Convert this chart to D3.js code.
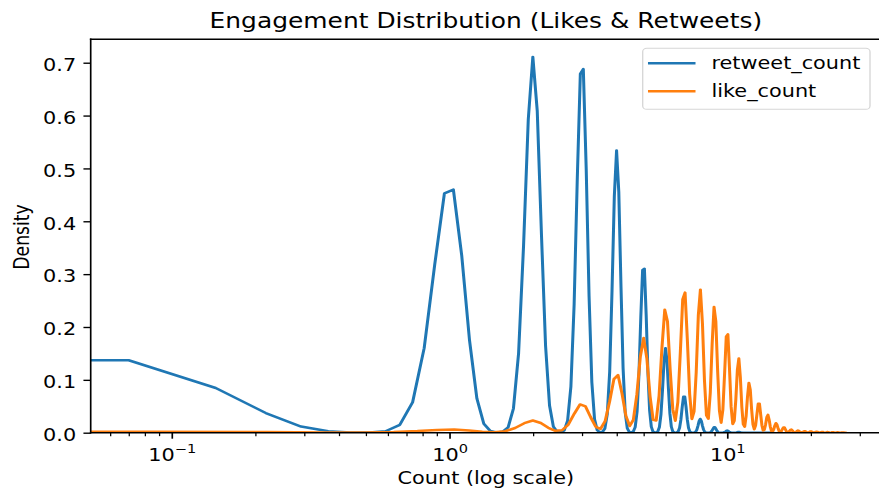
<!DOCTYPE html>
<html><head><meta charset="utf-8">
<script src="https://cdn.jsdelivr.net/npm/d3@7"></script>
<style>
body{margin:0;background:#fff}
svg{display:block}
text{font-family:"DejaVu Sans",sans-serif;fill:#000}
</style>
</head><body>
<svg id="c" width="879" height="490"></svg>
<script>
// ---- data (KDE curves) ----
const retweetX = [
-0.0041,0.0700,0.1441,0.2182,0.2923,0.3664,0.4406,0.5147,0.5888,0.6629,
0.7370,0.8111,0.8852,0.9593,1.0334,1.1075,1.1817,1.2558,1.3299,1.4040,
1.4781,1.5522,1.6263,1.7004,1.7745,1.8486,1.9228,1.9969,2.0710,2.1451,
2.2192,2.2933,2.3674,2.4415,2.5156,2.5897,2.6639,2.7380,2.8121,2.8862,
2.9603,3.0344,3.1085,3.1826,3.2567,3.3308,3.4050,3.4791,3.5532,3.6273,
3.7014,3.7755,3.8496,3.9237,3.9978,4.0719,4.1461,4.2202,4.2943,4.3684,
4.4425,4.5166,4.5907,4.6648,4.7389,4.8130,4.8872,4.9613,5.0354,5.1095,
5.1836,5.2577,5.3318,5.4059,5.4800,5.5541,5.6283,5.7024,5.7765,5.8506,
5.9247,5.9988,6.0729,6.1470,6.2211,6.2952,6.3694,6.4435,6.5176,6.5917,
6.6658,6.7399,6.8140,6.8881,6.9622,7.0363,7.1105,7.1846,7.2587,7.3328,
7.4069,7.4810,7.5551,7.6292,7.7033,7.7774,7.8516,7.9257,7.9998,8.0739,
8.1480,8.2221,8.2962,8.3703,8.4444,8.5185,8.5927,8.6668,8.7409,8.8150,
8.8891,8.9632,9.0373,9.1114,9.1855,9.2596,9.3338,9.4079,9.4820,9.5561,
9.6302,9.7043,9.7784,9.8525,9.9266,10.0007,10.0749,10.1490,10.2231,10.2972,
10.3713,10.4454,10.5195,10.5936,10.6677,10.7418,10.8160,10.8901,10.9642,11.0383,
11.1124,11.1865,11.2606,11.3347,14.5960];
const retweetY = [
0.159,0.137,0.0845,0.0372,0.0117,0.0026,0.0004,0.0004,0.0027,0.0149,
0.0576,0.160,0.318,0.453,0.460,0.335,0.174,0.0646,0.0171,0.0033,
0.0006,0.0016,0.0100,0.0459,0.1507,0.353,0.593,0.711,0.609,0.374,
0.164,0.0515,0.0116,0.0019,0.0008,0.0042,0.0227,0.0878,0.243,0.480,
0.679,0.688,0.498,0.258,0.0955,0.0253,0.0048,0.0008,0.0013,0.0077,
0.0351,0.1147,0.268,0.447,0.534,0.456,0.278,0.1216,0.0380,0.0085,
0.0014,0.0004,0.0019,0.0104,0.0402,0.1108,0.2184,0.308,0.310,0.2233,
0.1151,0.0424,0.0112,0.0021,0.0003,0.0004,0.0024,0.0107,0.0348,0.0810,
0.1346,0.160,0.136,0.0827,0.0360,0.0112,0.0025,0.0004,0.0001,0.0004,
0.0024,0.0090,0.0247,0.0485,0.0680,0.0682,0.0489,0.0251,0.0092,0.0024,
0.0005,0.0001,0.0001,0.0004,0.0018,0.0057,0.0133,0.0220,0.0260,0.0221,
0.0133,0.0058,0.0018,0.0004,0.0001,0.0000,0.0001,0.0004,0.0014,0.0037,
0.0072,0.0101,0.0101,0.0072,0.0037,0.0013,0.0004,0.0001,0.0000,0.0000,
0.0001,0.0003,0.0009,0.0021,0.0034,0.0040,0.0034,0.0020,0.0009,0.0003,
0.0001,0,0,0,0,0.0001,0.0005,0.0010,0.0014,0.0014,
0.0010,0.0005,0.0002,0,0];
const likeX = [
-0.0533,0.0834,0.2201,0.3568,0.4934,0.6301,0.7668,0.9035,1.0402,1.1768,
1.3135,1.4502,1.5869,1.7236,1.8602,1.9969,2.1336,2.2703,2.4070,2.5436,
2.6803,2.8170,2.9537,3.0904,3.2270,3.3637,3.5004,3.6371,3.7738,3.9104,
4.0471,4.1838,4.3205,4.4572,4.5938,4.7305,4.8672,5.0039,5.1406,5.2772,
5.4139,5.5506,5.6873,5.8240,5.9606,6.0973,6.2340,6.3707,6.5074,6.6440,
6.7807,6.9174,7.0541,7.1908,7.3274,7.4641,7.6008,7.7375,7.8742,8.0108,
8.1475,8.2842,8.4209,8.5576,8.6942,8.8309,8.9676,9.1043,9.2410,9.3776,
9.5143,9.6510,9.7877,9.9244,10.0610,10.1977,10.3344,10.4711,10.6078,10.7444,
10.8811,11.0178,11.1545,11.2912,11.4278,11.5645,11.7012,11.8379,11.9746,12.1112,
12.2479,12.3846,12.5213,12.6580,12.7946,12.9313,13.0680,13.2047,13.3414,13.4780,
13.6147,13.7514,13.8881,14.0248,14.1614,14.2981,14.4348,14.5715,14.7082,14.8448,
14.9815,15.1182,15.2549,15.3916,15.5282,15.6649,15.8016,15.9383,16.0750,16.2116,
16.3483,16.4850,16.6217,16.7584,16.8950,17.0317,17.1684,17.3051,17.4418,17.5784,
17.7151,17.8518,17.9885,18.1252,18.2618,18.3985,18.5352,18.6719,18.8086,18.9452,
19.0819,19.2186,19.3553,19.4920,19.6286,19.7653,19.9020,20.0387,20.1754,20.3120,
20.4487,20.5854,20.7221,20.8588,20.9954,21.1321,21.2688,21.4055,21.5422,21.6788,
21.8155,21.9522,22.0889,22.2256,22.3622,22.4989,22.6356,22.7723,22.9090,23.0456,
23.1823,23.3190,23.4557,23.5924,23.7290,23.8657,24.0024,24.1391,24.2758,24.4124,
24.5491,24.6858,24.8225,24.9592,25.0958,25.2325,25.3692,25.5059,25.6426,25.7792,
25.9159,26.0526,26.1893,26.3260,26.4626,26.5993];
const likeY = [
0.0019,0.0018,0.0011,0.0004,0.0003,0.0011,0.0030,0.0053,0.0059,0.0041,
0.0018,0.0010,0.0028,0.0089,0.0180,0.0230,0.0184,0.0093,0.0036,0.0046,
0.0154,0.0362,0.0535,0.0497,0.0290,0.0112,0.0073,0.0220,0.0591,0.1013,
0.1089,0.0735,0.0316,0.0127,0.0242,0.0724,0.1436,0.1790,0.1398,0.0689,
0.0242,0.0230,0.0703,0.1610,0.2325,0.2105,0.1197,0.0445,0.0227,0.0577,
0.1510,0.2525,0.2651,0.1745,0.0730,0.0261,0.0400,0.1148,0.2224,0.2706,
0.2065,0.0992,0.0332,0.0265,0.0755,0.1686,0.2379,0.2104,0.1167,0.0420,
0.0190,0.0437,0.1110,0.1816,0.1861,0.1197,0.0488,0.0165,0.0225,0.0626,
0.1182,0.1404,0.1046,0.0491,0.0159,0.0115,0.0314,0.0684,0.0942,0.0814,
0.0441,0.0155,0.0065,0.0138,0.0342,0.0547,0.0548,0.0344,0.0137,0.0044,
0.0058,0.0157,0.0291,0.0337,0.0246,0.0112,0.0035,0.0024,0.0062,0.0133,
0.0179,0.0151,0.0080,0.0027,0.0012,0.0027,0.0064,0.0100,0.0098,0.0060,
0.0023,0.0008,0.0011,0.0029,0.0052,0.0059,0.0042,0.0019,0.0006,0.0005,
0.0014,0.0030,0.0040,0.0033,0.0017,0.0006,0.0003,0.0008,0.0019,0.0029,
0.0028,0.0017,0.0006,0.0003,0.0004,0.0013,0.0022,0.0025,0.0017,0.0007,
0.0002,0.0002,0.0008,0.0016,0.0020,0.0016,0.0008,0.0003,0.0002,0.0004,
0.0010,0.0015,0.0014,0.0008,0.0003,0.0001,0.0002,0.0006,0.0011,0.0012,
0.0008,0.0003,0.0001,0.0001,0.0004,0.0008,0.0010,0.0008,0.0004,0.0001,
0.0001,0.0002,0.0005,0.0008,0.0007,0.0004,0.0001,0.0001,0.0001,0.0003,
0.0005,0.0006,0.0004,0.0002,0.0000,0.0000];
const seriesNames = ["retweet_count","like_count"];
const seriesColors = ["#1f77b4","#ff7f0e"];
const xMajorTicks = [0.1, 1, 10];
const xMajorExp = ["\u22121","0","1"];
const xMinorTicks = [0.06,0.07,0.08,0.09,0.2,0.3,0.4,0.5,0.6,0.7,0.8,0.9,2,3,4,5,6,7,8,9,20,30];
const yTicks = [0,0.1,0.2,0.3,0.4,0.5,0.6,0.7];
const titleText = "Engagement Distribution (Likes & Retweets)";
const xLabel = "Count (log scale)";
const yLabel = "Density";

// ---- layout ----
const SX = 1.21;           // horizontal stretch of the reference picture
const FS = 17.2, FT = 20.6;
const L = 90.7/SX, R = 881/SX, T = 39.3, B = 432.7;

const svg = d3.select("#c");
svg.append("rect").attr("width",879).attr("height",490).attr("fill","#fff");
const g = svg.append("g").attr("transform",`scale(${SX},1)`);

const x = d3.scaleLog().domain([0.0511, 35.8]).range([L, R]);
const y = d3.scaleLinear().domain([0, 0.7443]).range([B, T]);

g.append("clipPath").attr("id","clip").append("rect")
  .attr("x",L).attr("y",T).attr("width",R-L).attr("height",B-T);

const pos = v => v > 0 ? v : 1e-300;   // non-positive values clipped like a log axis does
const line = d3.line().x(d => x(pos(d[0]))).y(d => y(d[1]));

const series = [
  {name: seriesNames[0], color: seriesColors[0], pts: d3.zip(retweetX, retweetY)},
  {name: seriesNames[1], color: seriesColors[1], pts: d3.zip(likeX, likeY)}
];
const plot = g.append("g").attr("clip-path","url(#clip)");
series.forEach(s => {
  plot.append("path").attr("d", line(s.pts))
    .attr("fill","none").attr("stroke", s.color).attr("stroke-width",2.5)
    .attr("stroke-linejoin","round").attr("stroke-linecap","square");
});

// ---- axes ----
const xMinorAxis = d3.axisBottom(x).tickValues(xMinorTicks).tickSize(3.44).tickSizeOuter(0).tickFormat(() => "");
const gxm = g.append("g").attr("transform",`translate(0,${B})`).call(xMinorAxis);
gxm.select(".domain").remove();
gxm.selectAll(".tick line").attr("stroke","#000").attr("stroke-width",1.03);

const xAxis = d3.axisBottom(x).tickValues(xMajorTicks).tickSize(6).tickSizeOuter(0).tickFormat(() => "");
const gx = g.append("g").attr("transform",`translate(0,${B})`).call(xAxis);
gx.select(".domain").remove();
gx.selectAll(".tick line").attr("stroke","#000").attr("stroke-width",1.38);
gx.selectAll(".tick text").remove();
gx.selectAll(".tick").each(function(d, i) {
  const t = d3.select(this).append("text")
    .attr("y", 28).attr("text-anchor","middle").attr("font-size", FS).attr("fill","#000");
  t.append("tspan").text("10");
  t.append("tspan").attr("font-size", FS*0.7).attr("dy", -7.2).text(xMajorExp[i]);
});

const yAxis = d3.axisLeft(y).tickValues(yTicks).tickSize(6).tickPadding(6).tickSizeOuter(0).tickFormat(d3.format(".1f"));
const gy = g.append("g").attr("transform",`translate(${L},0)`).call(yAxis);
gy.select(".domain").remove();
gy.selectAll(".tick line").attr("stroke","#000").attr("stroke-width",1.38);
gy.selectAll(".tick text").attr("font-size", FS).attr("font-family","DejaVu Sans").attr("dy","0.45em").attr("fill","#000");

// spines
const sp = g.append("g").attr("stroke","#000").attr("stroke-width",1.38).attr("stroke-linecap","square");
sp.append("line").attr("x1",L).attr("x2",L).attr("y1",T).attr("y2",B);
sp.append("line").attr("x1",L).attr("x2",R).attr("y1",B).attr("y2",B);
sp.append("line").attr("x1",L).attr("x2",R).attr("y1",T).attr("y2",T);
sp.append("line").attr("x1",R).attr("x2",R).attr("y1",T).attr("y2",B);

// ---- labels ----
g.append("text").attr("x",(L+R)/2).attr("y",28.5).attr("text-anchor","middle")
  .attr("font-size",FT).text(titleText);
g.append("text").attr("x",(L+R)/2).attr("y",484).attr("text-anchor","middle")
  .attr("font-size",FS).text(xLabel);
g.append("text").attr("transform",`translate(${29/SX},${237}) rotate(-90)`)
  .attr("text-anchor","middle").attr("font-size",FS).text(yLabel);

// ---- legend ----
const lg = g.append("g");
lg.append("rect").attr("x",642.7/SX).attr("y",48.3).attr("width",(870-642.7)/SX).attr("height",61)
  .attr("rx",3.4).attr("ry",3.4).attr("fill","#fff").attr("fill-opacity",0.8)
  .attr("stroke","#d6d6d6").attr("stroke-width",1.1);
const rowsY = [63.3, 91.2];
series.forEach((s, i) => {
  lg.append("line").attr("x1",649.5/SX).attr("x2",694/SX).attr("y1",rowsY[i]).attr("y2",rowsY[i])
    .attr("stroke",s.color).attr("stroke-width",2.5).attr("stroke-linecap","square");
  lg.append("text").attr("x",711.5/SX).attr("y",rowsY[i]+6.1).attr("font-size",FS).text(s.name);
});
</script>
</body></html>
